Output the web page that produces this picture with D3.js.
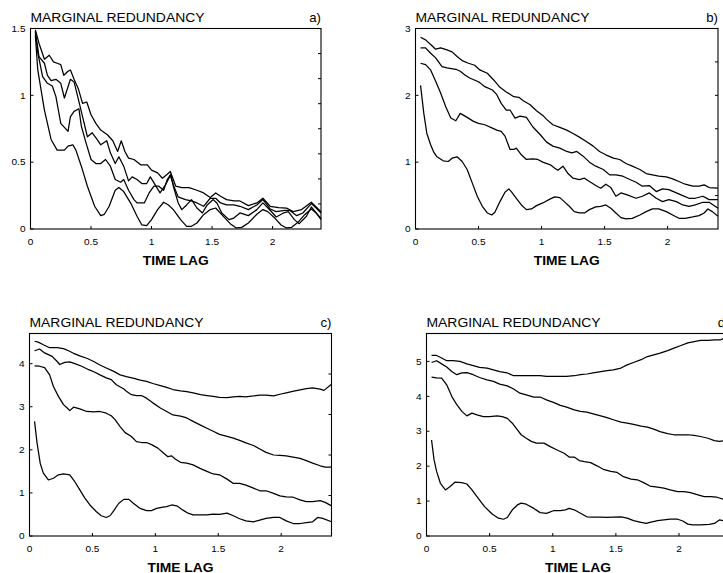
<!DOCTYPE html>
<html><head><meta charset="utf-8">
<script src="https://cdn.jsdelivr.net/npm/d3@7"></script>
<style>
body{margin:0;background:#fff}
svg text{font-family:"Liberation Sans",Arial,Helvetica,sans-serif;fill:#000}
</style></head>
<body><svg id="chart" width="723" height="573"></svg>
<script>
// ---------- DATA (time lag, marginal redundancy) ----------
const xTickValues = [0, 0.5, 1, 1.5, 2];
const titleText = "MARGINAL REDUNDANCY";
const xLabel = "TIME LAG";
const panelLabels = ["a)", "b)", "c)", "d)"];
const yMaxes = [1.5, 3, 4.7, 5.8];
const yTicksA = [0, 0.5, 1, 1.5];
const yTicksB = [0, 1, 2, 3];
const yTicksC = [0, 1, 2, 3, 4];
const yTicksD = [0, 1, 2, 3, 4, 5];

const a1 = [[0.04,1.49],[0.07,1.39],[0.115,1.27],[0.155,1.30],[0.19,1.25],[0.22,1.24],[0.25,1.23],[0.275,1.15],[0.31,1.18],[0.33,1.19],[0.36,1.12],[0.395,1.05],[0.43,0.94],[0.465,0.95],[0.50,0.855],[0.54,0.79],[0.58,0.74],[0.635,0.705],[0.68,0.66],[0.72,0.58],[0.75,0.66],[0.78,0.58],[0.81,0.53],[0.855,0.52],[0.91,0.48],[0.965,0.48],[1.0,0.44],[1.05,0.42],[1.09,0.38],[1.13,0.41],[1.155,0.43],[1.20,0.32],[1.25,0.31],[1.31,0.31],[1.375,0.29],[1.43,0.27],[1.485,0.235],[1.53,0.27],[1.57,0.245],[1.62,0.22],[1.68,0.21],[1.73,0.21],[1.80,0.175],[1.87,0.195],[1.92,0.23],[1.98,0.17],[2.05,0.16],[2.115,0.157],[2.17,0.13],[2.24,0.145],[2.32,0.20],[2.36,0.165],[2.40,0.13]];
const a2 = [[0.04,1.48],[0.07,1.29],[0.115,1.24],[0.14,1.15],[0.17,1.11],[0.21,1.12],[0.25,1.09],[0.28,0.98],[0.33,1.12],[0.36,1.10],[0.39,0.99],[0.43,0.84],[0.47,0.69],[0.51,0.72],[0.55,0.67],[0.58,0.63],[0.63,0.66],[0.66,0.57],[0.70,0.49],[0.73,0.54],[0.77,0.47],[0.81,0.36],[0.84,0.39],[0.88,0.37],[0.92,0.34],[0.96,0.34],[0.99,0.39],[1.03,0.33],[1.07,0.27],[1.115,0.33],[1.155,0.40],[1.18,0.33],[1.22,0.24],[1.28,0.22],[1.33,0.21],[1.375,0.195],[1.43,0.17],[1.485,0.23],[1.53,0.23],[1.57,0.195],[1.62,0.18],[1.68,0.18],[1.73,0.17],[1.80,0.145],[1.87,0.18],[1.92,0.22],[1.98,0.15],[2.03,0.13],[2.10,0.14],[2.14,0.14],[2.20,0.10],[2.25,0.12],[2.32,0.19],[2.36,0.157],[2.40,0.12]];
const a3 = [[0.04,1.47],[0.06,1.32],[0.10,1.14],[0.14,1.09],[0.18,1.07],[0.21,0.99],[0.25,0.79],[0.28,0.76],[0.31,0.73],[0.33,0.84],[0.36,0.88],[0.40,0.90],[0.42,0.77],[0.46,0.64],[0.50,0.52],[0.54,0.49],[0.58,0.49],[0.62,0.52],[0.66,0.47],[0.70,0.37],[0.745,0.35],[0.77,0.37],[0.81,0.29],[0.855,0.22],[0.88,0.195],[0.94,0.195],[0.98,0.27],[1.02,0.32],[1.06,0.32],[1.10,0.29],[1.13,0.37],[1.16,0.41],[1.18,0.32],[1.22,0.195],[1.25,0.145],[1.29,0.18],[1.33,0.22],[1.375,0.157],[1.42,0.12],[1.46,0.18],[1.51,0.22],[1.54,0.195],[1.58,0.12],[1.64,0.07],[1.68,0.082],[1.73,0.12],[1.80,0.10],[1.87,0.145],[1.92,0.195],[1.98,0.14],[2.03,0.09],[2.09,0.12],[2.13,0.13],[2.18,0.07],[2.22,0.04],[2.28,0.095],[2.32,0.165],[2.36,0.12],[2.40,0.07]];
const a4 = [[0.04,1.45],[0.06,1.19],[0.115,0.89],[0.17,0.67],[0.22,0.59],[0.28,0.59],[0.31,0.62],[0.35,0.63],[0.375,0.59],[0.42,0.47],[0.47,0.32],[0.53,0.17],[0.58,0.10],[0.61,0.11],[0.65,0.17],[0.70,0.29],[0.73,0.31],[0.77,0.28],[0.83,0.19],[0.88,0.095],[0.92,0.03],[0.96,0.025],[1.0,0.07],[1.05,0.145],[1.10,0.20],[1.14,0.18],[1.18,0.145],[1.24,0.07],[1.29,0.02],[1.33,0.02],[1.375,0.045],[1.43,0.107],[1.485,0.145],[1.53,0.157],[1.58,0.107],[1.65,0.04],[1.70,0.008],[1.745,0.012],[1.80,0.045],[1.87,0.11],[1.92,0.145],[1.96,0.13],[2.02,0.08],[2.07,0.03],[2.115,0.008],[2.156,0.012],[2.21,0.05],[2.265,0.107],[2.32,0.15],[2.36,0.12],[2.40,0.08]];

const b1 = [[0.04,2.87],[0.08,2.83],[0.12,2.76],[0.16,2.69],[0.20,2.71],[0.25,2.68],[0.29,2.65],[0.33,2.58],[0.37,2.52],[0.42,2.48],[0.47,2.45],[0.51,2.38],[0.57,2.33],[0.62,2.23],[0.67,2.12],[0.72,2.05],[0.78,1.98],[0.82,1.97],[0.855,1.92],[0.91,1.86],[0.96,1.77],[1.01,1.70],[1.04,1.64],[1.09,1.56],[1.145,1.52],[1.20,1.48],[1.25,1.43],[1.30,1.375],[1.355,1.31],[1.41,1.24],[1.46,1.16],[1.51,1.11],[1.57,1.06],[1.62,1.04],[1.67,0.98],[1.72,0.94],[1.78,0.89],[1.83,0.83],[1.88,0.81],[1.93,0.79],[1.99,0.78],[2.04,0.75],[2.09,0.71],[2.14,0.67],[2.20,0.64],[2.25,0.64],[2.29,0.66],[2.33,0.62],[2.40,0.61]];
const b2 = [[0.04,2.71],[0.08,2.71],[0.12,2.63],[0.16,2.56],[0.21,2.43],[0.25,2.41],[0.32,2.39],[0.355,2.36],[0.395,2.30],[0.43,2.26],[0.49,2.21],[0.51,2.19],[0.55,2.13],[0.61,2.08],[0.645,2.01],[0.68,1.88],[0.72,1.78],[0.75,1.78],[0.79,1.66],[0.83,1.69],[0.88,1.67],[0.93,1.53],[0.99,1.41],[1.04,1.30],[1.09,1.24],[1.145,1.21],[1.20,1.16],[1.24,1.14],[1.28,1.16],[1.33,1.09],[1.38,1.00],[1.43,0.94],[1.49,0.89],[1.54,0.81],[1.59,0.81],[1.645,0.79],[1.70,0.74],[1.75,0.70],[1.80,0.64],[1.855,0.65],[1.91,0.56],[1.96,0.60],[2.01,0.59],[2.07,0.54],[2.12,0.50],[2.17,0.46],[2.22,0.46],[2.28,0.49],[2.33,0.44],[2.40,0.44]];
const b3 = [[0.04,2.48],[0.08,2.46],[0.12,2.38],[0.16,2.21],[0.20,2.03],[0.24,1.83],[0.28,1.66],[0.32,1.62],[0.355,1.73],[0.41,1.67],[0.46,1.61],[0.50,1.58],[0.55,1.56],[0.61,1.51],[0.645,1.48],[0.68,1.46],[0.71,1.39],[0.75,1.19],[0.78,1.19],[0.80,1.21],[0.84,1.11],[0.88,1.04],[0.93,1.05],[0.97,1.04],[1.01,1.00],[1.07,0.96],[1.105,0.91],[1.13,0.88],[1.17,0.94],[1.21,0.83],[1.25,0.76],[1.30,0.74],[1.34,0.76],[1.38,0.71],[1.43,0.65],[1.47,0.61],[1.51,0.67],[1.55,0.62],[1.59,0.49],[1.63,0.54],[1.68,0.51],[1.75,0.46],[1.80,0.49],[1.855,0.54],[1.91,0.46],[1.96,0.41],[2.01,0.44],[2.07,0.41],[2.12,0.36],[2.17,0.34],[2.22,0.36],[2.28,0.40],[2.33,0.40],[2.40,0.31]];
const b4 = [[0.04,2.15],[0.066,1.73],[0.09,1.43],[0.12,1.26],[0.145,1.15],[0.17,1.08],[0.22,1.02],[0.26,1.01],[0.29,1.06],[0.33,1.08],[0.37,1.01],[0.41,0.89],[0.45,0.69],[0.49,0.49],[0.53,0.34],[0.57,0.24],[0.605,0.21],[0.63,0.25],[0.67,0.41],[0.71,0.55],[0.74,0.60],[0.76,0.56],[0.80,0.46],[0.84,0.36],[0.88,0.29],[0.92,0.30],[0.96,0.35],[1.01,0.39],[1.07,0.45],[1.105,0.48],[1.145,0.47],[1.18,0.41],[1.22,0.34],[1.26,0.26],[1.30,0.24],[1.34,0.24],[1.38,0.29],[1.43,0.33],[1.47,0.34],[1.51,0.36],[1.55,0.31],[1.59,0.24],[1.63,0.17],[1.67,0.15],[1.72,0.16],[1.78,0.21],[1.83,0.26],[1.88,0.30],[1.93,0.30],[1.99,0.26],[2.04,0.21],[2.09,0.16],[2.14,0.16],[2.20,0.18],[2.25,0.20],[2.29,0.24],[2.32,0.30],[2.355,0.26],[2.40,0.19]];

const c1 = [[0.04,4.52],[0.07,4.50],[0.11,4.44],[0.16,4.37],[0.22,4.37],[0.27,4.35],[0.31,4.30],[0.35,4.24],[0.40,4.18],[0.46,4.12],[0.51,4.05],[0.56,3.97],[0.61,3.90],[0.67,3.82],[0.72,3.74],[0.77,3.70],[0.83,3.66],[0.88,3.62],[0.93,3.59],[0.98,3.54],[1.04,3.49],[1.09,3.45],[1.14,3.40],[1.20,3.37],[1.25,3.35],[1.30,3.32],[1.36,3.28],[1.41,3.26],[1.46,3.24],[1.51,3.22],[1.57,3.21],[1.62,3.23],[1.67,3.24],[1.72,3.23],[1.78,3.25],[1.83,3.27],[1.88,3.27],[1.94,3.25],[1.99,3.29],[2.04,3.32],[2.10,3.36],[2.15,3.39],[2.20,3.42],[2.25,3.44],[2.31,3.41],[2.34,3.38],[2.40,3.52]];
const c2 = [[0.04,4.30],[0.08,4.34],[0.12,4.25],[0.18,4.17],[0.22,4.05],[0.24,3.98],[0.28,4.03],[0.32,4.04],[0.36,4.00],[0.415,3.94],[0.47,3.86],[0.52,3.80],[0.56,3.74],[0.61,3.67],[0.65,3.63],[0.69,3.51],[0.75,3.41],[0.77,3.36],[0.81,3.28],[0.85,3.26],[0.89,3.26],[0.93,3.20],[0.98,3.09],[1.04,2.97],[1.09,2.89],[1.14,2.81],[1.20,2.78],[1.25,2.74],[1.30,2.66],[1.355,2.58],[1.41,2.50],[1.46,2.43],[1.51,2.36],[1.57,2.31],[1.62,2.27],[1.67,2.22],[1.72,2.16],[1.78,2.10],[1.83,2.02],[1.88,1.94],[1.94,1.88],[1.99,1.87],[2.04,1.86],[2.095,1.83],[2.15,1.80],[2.20,1.75],[2.25,1.69],[2.31,1.63],[2.35,1.60],[2.40,1.60]];
const c3 = [[0.04,3.95],[0.08,3.94],[0.12,3.91],[0.16,3.74],[0.19,3.47],[0.23,3.24],[0.27,3.05],[0.30,2.97],[0.32,2.91],[0.35,2.99],[0.40,2.95],[0.455,2.89],[0.51,2.88],[0.56,2.89],[0.61,2.85],[0.65,2.79],[0.68,2.70],[0.72,2.54],[0.76,2.40],[0.81,2.31],[0.85,2.19],[0.89,2.17],[0.93,2.17],[0.97,2.12],[1.02,2.04],[1.06,1.94],[1.10,1.84],[1.13,1.86],[1.16,1.78],[1.20,1.71],[1.25,1.69],[1.30,1.65],[1.355,1.57],[1.41,1.50],[1.46,1.44],[1.51,1.42],[1.57,1.32],[1.62,1.22],[1.67,1.22],[1.72,1.18],[1.78,1.11],[1.83,1.05],[1.88,1.05],[1.94,0.99],[1.99,0.93],[2.04,0.91],[2.095,0.90],[2.15,0.84],[2.20,0.80],[2.25,0.80],[2.31,0.82],[2.35,0.78],[2.40,0.70]];
const c4 = [[0.04,2.66],[0.06,2.16],[0.085,1.69],[0.11,1.46],[0.15,1.30],[0.19,1.34],[0.23,1.42],[0.27,1.44],[0.32,1.42],[0.36,1.26],[0.40,1.07],[0.44,0.88],[0.48,0.72],[0.53,0.57],[0.57,0.47],[0.61,0.43],[0.64,0.47],[0.67,0.59],[0.71,0.76],[0.75,0.85],[0.79,0.85],[0.825,0.76],[0.88,0.64],[0.93,0.59],[0.97,0.59],[1.01,0.64],[1.06,0.67],[1.09,0.68],[1.13,0.72],[1.17,0.70],[1.22,0.60],[1.26,0.53],[1.30,0.49],[1.355,0.49],[1.41,0.49],[1.46,0.51],[1.51,0.50],[1.57,0.53],[1.62,0.47],[1.67,0.40],[1.72,0.35],[1.78,0.33],[1.83,0.37],[1.88,0.41],[1.94,0.43],[1.99,0.43],[2.04,0.35],[2.095,0.29],[2.15,0.29],[2.20,0.31],[2.25,0.33],[2.29,0.43],[2.33,0.41],[2.40,0.33]];

const d1 = [[0.04,5.17],[0.08,5.17],[0.12,5.10],[0.16,5.02],[0.21,5.02],[0.265,5.00],[0.32,4.93],[0.37,4.88],[0.42,4.83],[0.48,4.81],[0.53,4.76],[0.58,4.71],[0.64,4.67],[0.69,4.59],[0.74,4.59],[0.79,4.59],[0.85,4.59],[0.90,4.59],[0.95,4.57],[1.01,4.57],[1.06,4.57],[1.11,4.57],[1.17,4.59],[1.22,4.62],[1.27,4.64],[1.32,4.67],[1.38,4.71],[1.43,4.74],[1.48,4.76],[1.54,4.81],[1.59,4.90],[1.64,4.97],[1.70,5.05],[1.75,5.14],[1.80,5.19],[1.85,5.24],[1.91,5.31],[1.96,5.38],[2.01,5.45],[2.07,5.53],[2.12,5.57],[2.17,5.60],[2.23,5.60],[2.28,5.62],[2.33,5.62],[2.355,5.66],[2.40,5.70]];
const d2 = [[0.04,4.97],[0.08,5.02],[0.12,4.93],[0.16,4.84],[0.20,4.71],[0.24,4.62],[0.28,4.67],[0.32,4.68],[0.37,4.62],[0.42,4.54],[0.48,4.47],[0.53,4.43],[0.58,4.35],[0.64,4.30],[0.69,4.21],[0.74,4.09],[0.79,4.04],[0.85,3.98],[0.90,3.98],[0.95,3.90],[1.01,3.82],[1.06,3.74],[1.11,3.69],[1.17,3.61],[1.22,3.57],[1.27,3.55],[1.32,3.50],[1.38,3.44],[1.43,3.39],[1.48,3.33],[1.54,3.26],[1.59,3.23],[1.64,3.20],[1.70,3.15],[1.75,3.12],[1.80,3.06],[1.85,2.99],[1.91,2.93],[1.96,2.90],[2.01,2.90],[2.07,2.90],[2.12,2.88],[2.17,2.85],[2.23,2.80],[2.28,2.73],[2.32,2.71],[2.355,2.73],[2.40,2.75]];
const d3v = [[0.04,4.55],[0.08,4.53],[0.12,4.52],[0.16,4.33],[0.20,4.00],[0.24,3.76],[0.28,3.57],[0.32,3.44],[0.36,3.52],[0.40,3.47],[0.45,3.42],[0.50,3.42],[0.56,3.44],[0.60,3.42],[0.64,3.37],[0.68,3.23],[0.72,3.04],[0.75,2.90],[0.79,2.80],[0.83,2.71],[0.87,2.66],[0.93,2.66],[0.98,2.56],[1.03,2.47],[1.09,2.37],[1.13,2.26],[1.17,2.26],[1.21,2.16],[1.25,2.13],[1.30,2.10],[1.35,2.01],[1.40,1.91],[1.46,1.85],[1.51,1.82],[1.56,1.70],[1.62,1.63],[1.67,1.61],[1.72,1.53],[1.77,1.43],[1.83,1.40],[1.88,1.37],[1.93,1.32],[1.99,1.27],[2.04,1.27],[2.09,1.24],[2.15,1.18],[2.20,1.13],[2.25,1.13],[2.30,1.11],[2.355,1.05],[2.40,1.00]];
const d4 = [[0.04,2.75],[0.06,2.18],[0.08,1.85],[0.11,1.51],[0.15,1.32],[0.185,1.41],[0.225,1.54],[0.28,1.53],[0.32,1.49],[0.36,1.32],[0.41,1.08],[0.46,0.84],[0.52,0.63],[0.57,0.51],[0.61,0.48],[0.64,0.53],[0.68,0.75],[0.72,0.89],[0.75,0.94],[0.79,0.91],[0.85,0.79],[0.90,0.67],[0.95,0.65],[1.01,0.73],[1.06,0.73],[1.10,0.75],[1.13,0.79],[1.17,0.75],[1.22,0.65],[1.27,0.55],[1.32,0.54],[1.38,0.54],[1.43,0.53],[1.48,0.54],[1.54,0.55],[1.59,0.51],[1.64,0.44],[1.70,0.39],[1.74,0.36],[1.77,0.39],[1.83,0.44],[1.88,0.46],[1.93,0.48],[1.99,0.48],[2.03,0.43],[2.07,0.34],[2.11,0.32],[2.17,0.32],[2.24,0.33],[2.28,0.36],[2.32,0.46],[2.355,0.44],[2.40,0.40]];

const seriesA = [a1, a2, a3, a4];
const seriesB = [b1, b2, b3, b4];
const seriesC = [c1, c2, c3, c4];
const seriesD = [d1, d2, d3v, d4];

// ---------- LAYOUT ----------
const panels = [
  {series: seriesA, yMax: yMaxes[0], yTicks: yTicksA, label: panelLabels[0], rightDiv: 8, left: 30.5, top: 28.5, width: 290.5, height: 200.5},
  {series: seriesB, yMax: yMaxes[1], yTicks: yTicksB, label: panelLabels[1], rightDiv: 6, left: 415.5, top: 28.5, width: 302.5, height: 200.5},
  {series: seriesC, yMax: yMaxes[2], yTicks: yTicksC, label: panelLabels[2], rightDiv: 5, left: 29.5, top: 333.5, width: 302, height: 202.5},
  {series: seriesD, yMax: yMaxes[3], yTicks: yTicksD, label: panelLabels[3], rightDiv: 6, left: 426.5, top: 333.5, width: 303, height: 202.5}
];

const svg = d3.select("#chart");
const tickLen = 3;

panels.forEach(p => {
  const x = d3.scaleLinear().domain([0, 2.4]).range([p.left, p.left + p.width]);
  const y = d3.scaleLinear().domain([0, p.yMax]).range([p.top + p.height, p.top]);
  const g = svg.append("g");
  const right = p.left + p.width, bottom = p.top + p.height;

  // curves
  const line = d3.line().x(d => x(d[0])).y(d => y(d[1])).curve(d3.curveLinear);
  g.selectAll("path.s").data(p.series).join("path")
    .attr("class", "s").attr("d", line)
    .attr("fill", "none").attr("stroke", "#000").attr("stroke-width", 1.25)
    .attr("stroke-linejoin", "round");

  // frame
  g.append("rect").attr("x", p.left).attr("y", p.top).attr("width", p.width).attr("height", p.height)
    .attr("fill", "none").attr("stroke", "#000").attr("stroke-width", 1.1);

  // bottom ticks (inside)
  g.selectAll("line.xt").data(xTickValues).join("line").attr("class", "xt")
    .attr("x1", d => x(d)).attr("x2", d => x(d)).attr("y1", bottom).attr("y2", bottom - tickLen)
    .attr("stroke", "#000").attr("stroke-width", 1);
  g.selectAll("text.xl").data(xTickValues).join("text").attr("class", "xl")
    .attr("transform", d => `translate(${x(d)},${bottom + 15.5}) scale(1.12,1)`)
    .attr("text-anchor", "middle").attr("font-size", 9).text(d => d3.format("")(d));

  // left ticks
  g.selectAll("line.yt").data(p.yTicks).join("line").attr("class", "yt")
    .attr("x1", p.left).attr("x2", p.left + tickLen).attr("y1", d => y(d)).attr("y2", d => y(d))
    .attr("stroke", "#000").attr("stroke-width", 1);
  g.selectAll("text.yl").data(p.yTicks).join("text").attr("class", "yl")
    .attr("transform", d => `translate(${p.left - 5},${y(d) + 3.2}) scale(1.12,1)`)
    .attr("text-anchor", "end").attr("font-size", 9).text(d => d3.format("")(d));

  // right ticks (inside, equal divisions)
  const rs = d3.range(1, p.rightDiv).map(i => bottom - i * p.height / p.rightDiv);
  g.selectAll("line.rt").data(rs).join("line").attr("class", "rt")
    .attr("x1", right).attr("x2", right - tickLen).attr("y1", d => d).attr("y2", d => d)
    .attr("stroke", "#000").attr("stroke-width", 1);

  // title + label
  g.append("text").attr("x", p.left).attr("y", p.top - 6.5).attr("font-size", 12)
    .attr("textLength", 174).attr("lengthAdjust", "spacingAndGlyphs").text(titleText);
  g.append("text").attr("transform", `translate(${right},${p.top - 6.5}) scale(1.1,1)`)
    .attr("text-anchor", "end").attr("font-size", 12).text(p.label);

  // x label
  g.append("text").attr("x", (p.left + right) / 2 - 33).attr("y", bottom + 35.5)
    .attr("font-size", 12).attr("font-weight", "bold")
    .attr("textLength", 66).attr("lengthAdjust", "spacingAndGlyphs").text(xLabel);
});
</script></body></html>
